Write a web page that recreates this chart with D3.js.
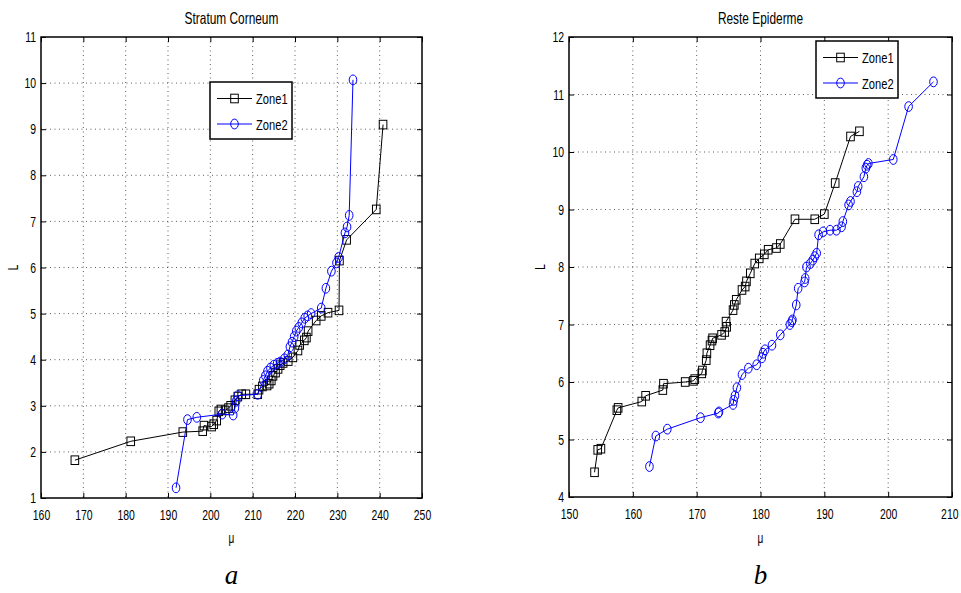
<!DOCTYPE html>
<html><head><meta charset="utf-8">
<script src="https://cdn.jsdelivr.net/npm/d3@7"></script>
<style>body{margin:0;background:#fff} svg{display:block}</style>
</head><body><svg id="c" width="961" height="593"></svg>
<script>
// ---- data ----
const panelTitles = ["Stratum Corneum", "Reste Epiderme"];
const panelLetters = ["a", "b"];
const seriesNames = ["Zone1", "Zone2"];
const xLabel = "\u03bc";
const yLabel = "L";

const xTicksA = [160, 170, 180, 190, 200, 210, 220, 230, 240, 250];
const yTicksA = [1, 2, 3, 4, 5, 6, 7, 8, 9, 10, 11];
const xTicksB = [150, 160, 170, 180, 190, 200, 210];
const yTicksB = [4, 5, 6, 7, 8, 9, 10, 11, 12];

// Stratum Corneum, Zone1 [mu, L]
const scZone1 = [[168,1.82],[181.2,2.23],[193.5,2.43],[198.2,2.45],[198.5,2.57],[200.3,2.55],[200.8,2.6],[201.5,2.68],[202,2.88],[202.5,2.92],[203.5,2.9],[204.3,2.95],[204.8,3.0],[205.8,3.12],[206.5,3.2],[207.4,3.25],[208.4,3.25],[211.2,3.25],[211.5,3.35],[212.3,3.42],[213.4,3.44],[213.9,3.48],[214.4,3.55],[214.8,3.65],[215.4,3.72],[216,3.8],[216.5,3.88],[217.2,3.93],[218.4,3.97],[219.5,4.05],[220.7,4.2],[221.1,4.32],[222.2,4.42],[222.7,4.48],[223.1,4.62],[225,4.85],[226.2,4.95],[227.8,5.02],[230.4,5.07],[230.5,6.15],[232.2,6.6],[239.2,7.26],[240.8,9.1]];
// Stratum Corneum, Zone2
const scZone2 = [[191.9,1.22],[194.6,2.7],[196.8,2.75],[202.8,2.82],[205.4,2.8],[205.8,2.95],[206.1,3.1],[206.5,3.22],[211.2,3.25],[212.5,3.55],[213,3.65],[213.5,3.75],[214.2,3.82],[215,3.88],[215.8,3.92],[216.5,3.95],[217.5,4.02],[218.3,4.1],[218.8,4.28],[219.3,4.38],[219.8,4.5],[220.3,4.62],[220.9,4.7],[221.6,4.8],[222.3,4.9],[223,4.95],[223.8,5.0],[226.2,5.12],[227.3,5.55],[228.6,5.92],[229.8,6.1],[230.3,6.22],[231.8,6.75],[232.3,6.88],[232.8,7.13],[233.7,10.07]];
// Reste Epiderme, Zone1
const reZone1 = [[154,4.43],[154.5,4.82],[155,4.84],[157.5,5.51],[157.7,5.55],[161.4,5.66],[162,5.76],[164.7,5.86],[164.8,5.97],[168.2,6.0],[169.5,6.02],[169.7,6.05],[170.8,6.15],[170.9,6.2],[171.5,6.38],[171.6,6.5],[172.1,6.64],[172.4,6.72],[172.5,6.76],[173.9,6.82],[174.4,6.87],[174.7,6.96],[174.6,7.05],[175.7,7.25],[175.9,7.34],[176.2,7.43],[177.1,7.6],[177.6,7.66],[177.8,7.75],[178.4,7.89],[179.1,8.06],[179.8,8.15],[180.6,8.22],[181.2,8.3],[182.5,8.33],[183.1,8.4],[185.4,8.83],[188.5,8.83],[190,8.92],[191.7,9.46],[194.1,10.27],[195.5,10.36]];
// Reste Epiderme, Zone2
const reZone2 = [[162.6,4.53],[163.6,5.06],[165.4,5.18],[170.6,5.38],[173.4,5.46],[173.5,5.48],[175.7,5.61],[175.8,5.68],[176,5.76],[176.3,5.9],[177.1,6.13],[178.1,6.24],[179.4,6.3],[180.2,6.42],[180.4,6.5],[180.7,6.56],[181.8,6.64],[183.1,6.82],[184.6,7.0],[184.9,7.05],[185,7.08],[185.6,7.34],[185.9,7.63],[186.9,7.74],[187,7.8],[187.2,8.0],[187.8,8.06],[188.2,8.12],[188.5,8.18],[188.8,8.24],[189.1,8.56],[189.8,8.61],[190.9,8.64],[191.9,8.64],[192.7,8.7],[192.9,8.79],[193.8,9.08],[194.1,9.14],[195.1,9.31],[195.3,9.4],[196.2,9.57],[196.5,9.72],[196.7,9.77],[196.9,9.8],[200.8,9.87],[203.2,10.79],[207.1,11.22]];

// ---- layout ----
const panels = [
  {title: panelTitles[0], letter: panelLetters[0], x0: 41, x1: 422, y0: 37, y1: 498,
   xTicks: xTicksA, yTicks: yTicksA, s1: scZone1, s2: scZone2, legend: {x: 210, y: 82}, ylabX: 13},
  {title: panelTitles[1], letter: panelLetters[1], x0: 569, x1: 952, y0: 37, y1: 497,
   xTicks: xTicksB, yTicks: yTicksB, s1: reZone1, s2: reZone2, legend: {x: 816, y: 41}, ylabX: 540}
];
const colors = ["#000000", "#0000ff"];
const FONT = "'Liberation Sans', Arial, Helvetica, sans-serif";
const svg = d3.select("#c");

function marker(g, type, color) {
  if (type === 0) {
    return g.append("rect").attr("x", -3.8).attr("y", -4.3).attr("width", 7.6).attr("height", 8.6)
      .attr("fill", "none").attr("stroke", color).attr("stroke-width", 1);
  }
  return g.append("ellipse").attr("rx", 3.8).attr("ry", 4.9)
    .attr("fill", "none").attr("stroke", color).attr("stroke-width", 1);
}

panels.forEach(p => {
  const xDom = d3.extent(p.xTicks), yDom = d3.extent(p.yTicks);
  const x = d3.scaleLinear().domain(xDom).range([p.x0, p.x1]);
  const y = d3.scaleLinear().domain(yDom).range([p.y1, p.y0]);
  const g = svg.append("g");

  // grid
  g.append("g").selectAll("line.gx").data(p.xTicks.slice(1, -1)).join("line")
    .attr("x1", d => x(d)).attr("x2", d => x(d)).attr("y1", p.y0).attr("y2", p.y1)
    .attr("stroke", "#333").attr("stroke-width", 0.8).attr("stroke-dasharray", "1,3.5");
  g.append("g").selectAll("line.gy").data(p.yTicks.slice(1, -1)).join("line")
    .attr("y1", d => y(d)).attr("y2", d => y(d)).attr("x1", p.x0).attr("x2", p.x1)
    .attr("stroke", "#333").attr("stroke-width", 0.8).attr("stroke-dasharray", "1,3.5");

  // series
  [p.s1, p.s2].forEach((s, i) => {
    g.append("path").datum(s)
      .attr("d", d3.line().x(d => x(d[0])).y(d => y(d[1])))
      .attr("fill", "none").attr("stroke", colors[i]).attr("stroke-width", 1);
    const mg = g.append("g");
    s.forEach(d => {
      const m = mg.append("g").attr("transform", `translate(${x(d[0])},${y(d[1])})`);
      marker(m, i, colors[i]);
    });
  });

  // axes (inward ticks, MATLAB box)
  const axB = g.append("g").attr("transform", `translate(0,${p.y1})`)
    .call(d3.axisBottom(x).tickValues(p.xTicks).tickSize(-5).tickPadding(12).tickFormat(d3.format("d")));
  const axL = g.append("g").attr("transform", `translate(${p.x0},0)`)
    .call(d3.axisLeft(y).tickValues(p.yTicks).tickSize(-5).tickPadding(5).tickFormat(d3.format("d")));
  const axT = g.append("g").attr("transform", `translate(0,${p.y0})`)
    .call(d3.axisTop(x).tickValues(p.xTicks).tickSize(-5).tickFormat(""));
  const axR = g.append("g").attr("transform", `translate(${p.x1},0)`)
    .call(d3.axisRight(y).tickValues(p.yTicks).tickSize(-5).tickFormat(""));
  [axB, axL, axT, axR].forEach(a => {
    a.select(".domain").remove();
    a.selectAll("line").attr("stroke", "#000").attr("stroke-width", 1);
    a.selectAll("text").attr("font-family", FONT).attr("font-size", 14.5).attr("fill", "#000").classed("cond", true);
  });
  // keep the last bottom label inside the page edge
  axB.selectAll(".tick").filter(d => x(d) > 945).select("text")
    .attr("text-anchor", "end").attr("x", 958 - x(p.xTicks[p.xTicks.length - 1]));
  g.append("rect").attr("x", p.x0).attr("y", p.y0).attr("width", p.x1 - p.x0).attr("height", p.y1 - p.y0)
    .attr("fill", "none").attr("stroke", "#000").attr("stroke-width", 1.5);

  // title and labels
  g.append("text").attr("class", "cond").attr("x", (p.x0 + p.x1) / 2).attr("y", 24)
    .attr("text-anchor", "middle").attr("font-family", FONT).attr("font-size", 16.5).text(p.title);
  g.append("text").attr("class", "cond").attr("x", (p.x0 + p.x1) / 2).attr("y", 543)
    .attr("text-anchor", "middle").attr("font-family", FONT).attr("font-size", 14).text(xLabel);
  g.append("text").attr("class", "cond").attr("transform", `translate(${p.ylabX + 5},${(p.y0 + p.y1) / 2}) rotate(-90)`)
    .attr("text-anchor", "middle").attr("font-family", FONT).attr("font-size", 14).text(yLabel);
  g.append("text").attr("x", (p.x0 + p.x1) / 2).attr("y", 584)
    .attr("text-anchor", "middle").attr("font-family", "'Liberation Serif', 'DejaVu Serif', serif")
    .attr("font-style", "italic").attr("font-size", 27).text(p.letter);

  // legend
  const lg = g.append("g").attr("transform", `translate(${p.legend.x},${p.legend.y})`);
  lg.append("rect").attr("width", 82).attr("height", 57).attr("fill", "#fff")
    .attr("stroke", "#000").attr("stroke-width", 1.5);
  seriesNames.forEach((nm, i) => {
    const ly = 16.5 + i * 25.5;
    lg.append("line").attr("x1", 7).attr("x2", 42).attr("y1", ly).attr("y2", ly)
      .attr("stroke", colors[i]).attr("stroke-width", 1);
    const m = lg.append("g").attr("transform", `translate(24.5,${ly})`);
    marker(m, i, colors[i]);
    lg.append("text").attr("class", "cond").attr("x", 46).attr("y", ly + 5.5)
      .attr("font-family", FONT).attr("font-size", 15.5).text(nm);
  });
});

// condense text like the narrow Helvetica of the original
svg.selectAll("text.cond").each(function () {
  const w = this.getComputedTextLength();
  if (w > 0) d3.select(this).attr("textLength", w * 0.72).attr("lengthAdjust", "spacingAndGlyphs");
});
</script></body></html>
